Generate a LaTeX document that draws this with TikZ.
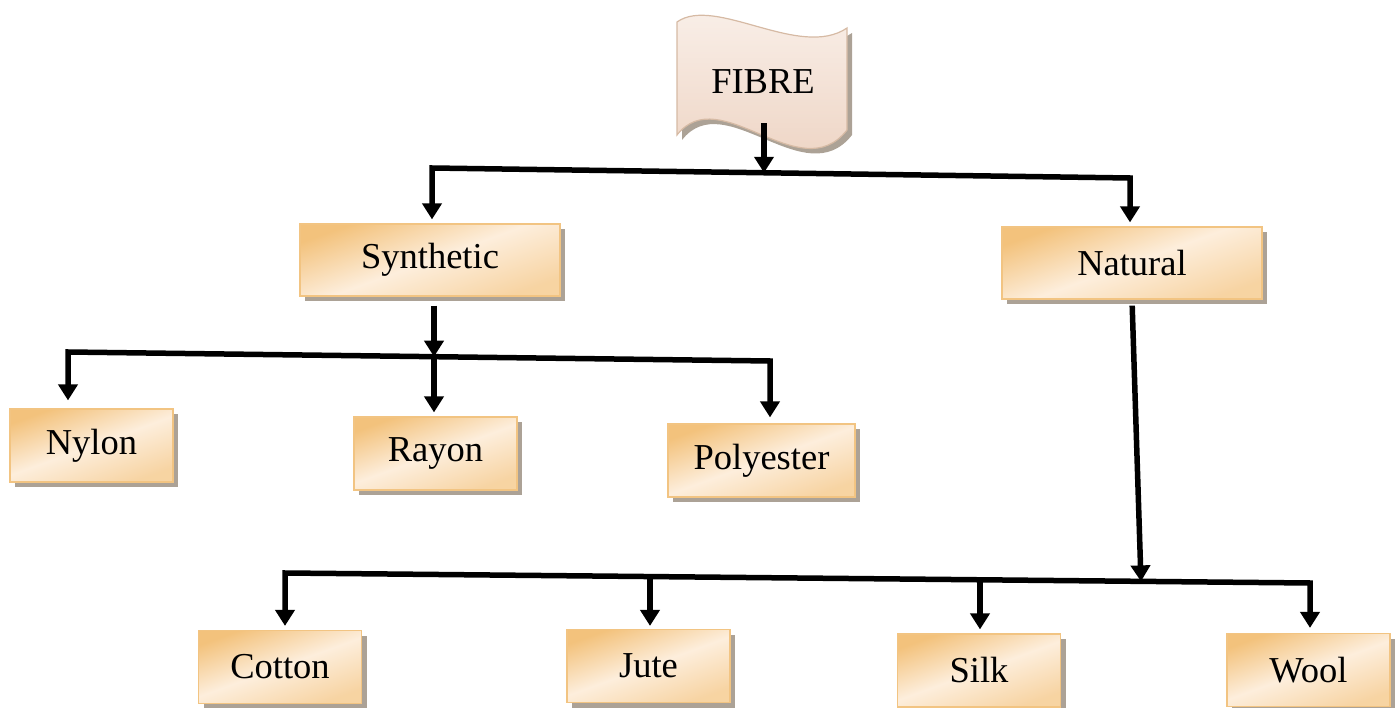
\documentclass[tikz,border=0pt]{standalone}
\usepackage{fontspec}
\setmainfont{Liberation Serif}
\usetikzlibrary{arrows.meta,shadows,calc}
\definecolor{boxorange}{RGB}{243,194,124}
\definecolor{boxlight}{RGB}{253,238,220}
\definecolor{boxedge}{RGB}{242,196,130}
\definecolor{shadowgray}{RGB}{172,162,150}
\definecolor{fibtop}{RGB}{250,241,235}
\definecolor{fibbot}{RGB}{236,208,190}
\definecolor{fibedge}{RGB}{214,186,164}
\begin{document}
\begin{tikzpicture}[x=1pt,y=-1pt,
  fbox/.style={draw=boxedge, line width=1.2pt, top color=boxorange, bottom color=boxorange!60!boxlight,
    middle color=boxlight, shading angle=20, minimum height=73pt, minimum width=163pt, inner sep=0pt,
    font=\fontsize{36.5}{40}\selectfont,
    drop shadow={shadow xshift=5pt, shadow yshift=-5pt, fill=shadowgray, opacity=1}},
  conn/.style={line width=5.5pt, line join=miter, line cap=butt},
  tipd/.style={-{Triangle[length=16pt,width=19pt]}},
  tipb/.style={{Triangle[length=16pt,width=19pt]}-{Triangle[length=16pt,width=19pt]}}]
\useasboundingbox (0,0) rectangle (1395,708);

% FIBRE wave shape
\path[draw=fibedge, line width=1.2pt, top color=fibtop, bottom color=fibbot,
  drop shadow={shadow xshift=5pt, shadow yshift=-5pt, fill=shadowgray, opacity=1}]
  (677,22) .. controls (715,-5) and (800,60) .. (847,28) -- (847,130)
  .. controls (800,190) and (720,80) .. (677,135) -- cycle;
\node[font=\fontsize{36.5}{40}\selectfont, minimum height=82pt, inner sep=0pt] (fibre) at (763,82) {FIBRE};

% boxes
\node[fbox, minimum width=260pt, minimum height=72pt] (syn) at (430,260) {Synthetic};
\node[fbox, minimum width=260pt, minimum height=72pt] (nat) at (1132,263) {Natural};
\node[fbox] (nylon) at (91.5,445.5) {Nylon};
\node[fbox] (rayon) at (435.5,453.5) {Rayon};
\node[fbox, minimum width=187pt] (poly) at (761.5,460.5) {Polyester};
\node[fbox] (cotton) at (280,667) {Cotton};
\node[fbox] (jute) at (648.5,666) {Jute};
\node[fbox] (silk) at (979,670.5) {Silk};
\node[fbox] (wool) at (1308.5,670) {Wool};

% bus coordinates
\coordinate (b1l) at (432,168);
\coordinate (b1r) at (1130,178);
\coordinate (b1m) at (764,172.8);
\coordinate (b2l) at (68,352);
\coordinate (b2r) at (770,361);
\coordinate (b2m) at (434,356.7);
\coordinate (b3l) at (285,573);
\coordinate (b3r) at (1310,583);
\coordinate (b3m) at (1141,581.4);
\coordinate (b3j) at (650,576.6);
\coordinate (b3s) at (980,579.8);

% connectors level 1
\draw[conn, tipd] (fibre.south -| b1m) -- (b1m);
\draw[conn, tipb, shorten <=4pt, shorten >=4pt] (syn.north -| b1l) -- (b1l) -- (b1r) -- (nat.north -| b1r);

% level 2
\draw[conn, tipd, shorten <=9pt] (syn.south -| b2m) -- (b2m);
\draw[conn, tipb, shorten <=8pt, shorten >=6pt] (nylon.north -| b2l) -- (b2l) -- (b2r) -- (poly.north -| b2r);
\draw[conn, tipd, shorten >=4pt] (b2m) -- (rayon.north -| b2m);

% level 3
\draw[conn, tipd, shorten <=6pt] (nat.south) -- (b3m);
\draw[conn, tipb, shorten <=4pt, shorten >=5pt] (cotton.north -| b3l) -- (b3l) -- (b3r) -- (wool.north -| b3r);
\draw[conn, tipd, shorten >=3pt] (b3j) -- (jute.north -| b3j);
\draw[conn, tipd, shorten >=4pt] (b3s) -- (silk.north -| b3s);
\end{tikzpicture}
\end{document}
